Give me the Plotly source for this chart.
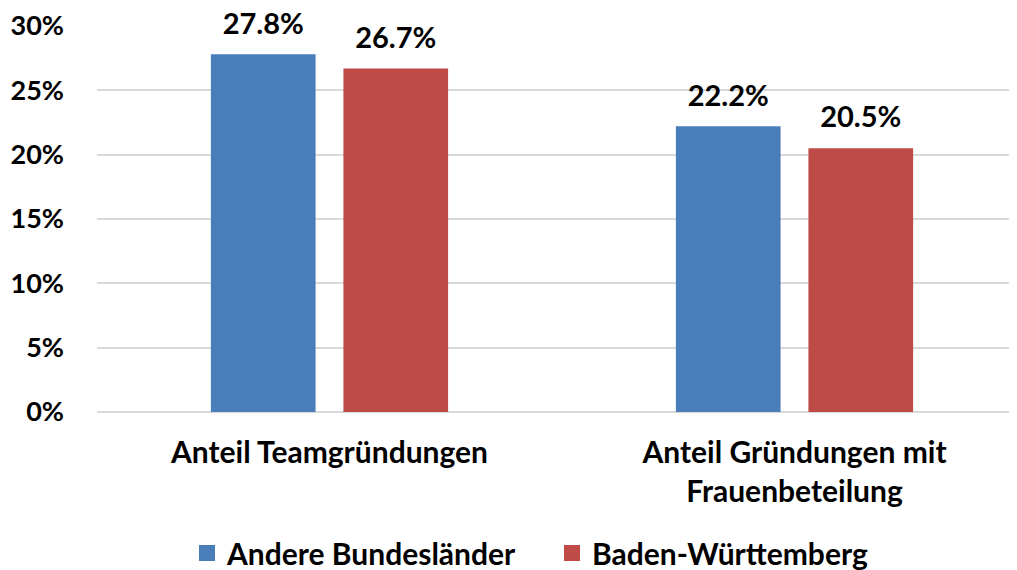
import plotly.graph_objects as go

categories = ["Anteil Teamgründungen", "Anteil Gründungen mit<br>Frauenbeteilung"]
series_names = ["Andere Bundesländer", "Baden-Württemberg"]
andere = [27.8, 22.2]
bw = [26.7, 20.5]
y_ticks = [0, 5, 10, 15, 20, 25, 30]
y_tick_labels = [f"{v}%" for v in y_ticks]

colors = ["#4a7ebb", "#be4b48"]
FONT = "Lato"

fig = go.Figure()
for i, (name, vals, col) in enumerate(zip(series_names, [andere, bw], colors)):
    fig.add_trace(go.Bar(
        x=categories, y=vals, name=name, showlegend=False,
        marker=dict(color=col, line=dict(width=0)),
        offsetgroup=str(i), alignmentgroup="g",
    ))
# value labels (invisible markers give the gap above the bar top)
for i, vals in enumerate([andere, bw]):
    fig.add_trace(go.Scatter(
        x=categories, y=vals, mode="markers+text", showlegend=False,
        offsetgroup=str(i), alignmentgroup="g",
        marker=dict(size=20, opacity=0),
        text=[f"{v:.1f}%" for v in vals], textposition="top center",
        textfont=dict(family=FONT, size=29, color="#000000", weight="bold"),
        cliponaxis=False, hoverinfo="skip",
    ))
# legend entries (square swatches)
for name, col in zip(series_names, colors):
    fig.add_trace(go.Scatter(
        x=[None], y=[None], mode="markers", name=name,
        marker=dict(symbol="square", size=18, color=col),
        showlegend=True,
    ))

fig.update_layout(
    width=1017, height=570,
    margin=dict(l=89, r=0, t=18, b=166),
    paper_bgcolor="white", plot_bgcolor="white",
    barmode="group", bargap=0.43, bargroupgap=0.21,
    scattermode="group", scattergap=0.43,
    font=dict(family=FONT, size=29, color="#000000", weight="bold"),
    showlegend=True,
    legend=dict(orientation="h", x=(191 - 89 - 12) / 928, xanchor="left",
                yref="container", y=1 - 545 / 570, yanchor="middle",
                font=dict(family=FONT, size=30, color="#000000", weight="bold"),
                itemwidth=30, tracegroupgap=0, bgcolor="rgba(0,0,0,0)",
                entrywidth=320, entrywidthmode="pixels"),
)
fig.update_xaxes(range=[-0.5, -0.5 + 928 / 465], showgrid=False, showline=False, ticks="",
                 automargin=False,
                 ticklabelstandoff=20, tickfont=dict(family=FONT, size=30, weight="bold"))
fig.update_yaxes(range=[0, 30], tickvals=y_ticks, ticktext=y_tick_labels, showgrid=True,
                 automargin=False,
                 gridcolor="#d9d9d9", gridwidth=1.5, zeroline=True, zerolinecolor="#d9d9d9",
                 zerolinewidth=1.5, showline=False, ticks="", ticklabelstandoff=32,
                 tickfont=dict(family=FONT, size=27, weight="bold"))

fig.write_html("out.html")
